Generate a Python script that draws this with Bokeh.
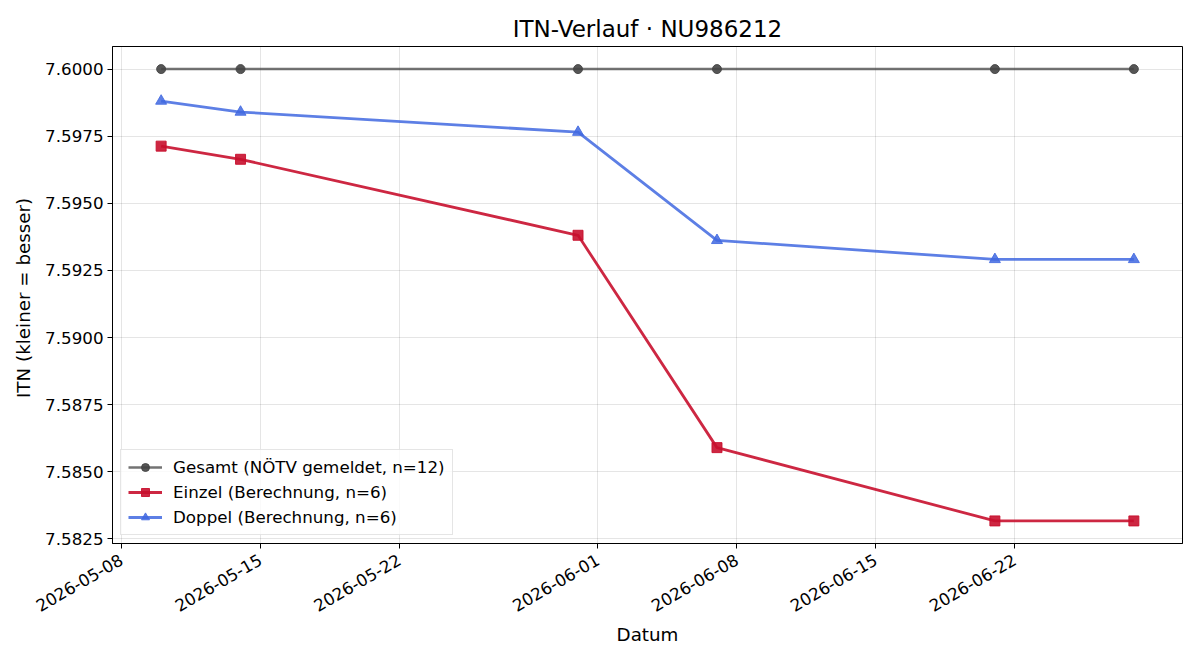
import math
from datetime import datetime
from bokeh.plotting import figure
from bokeh.models import (ColumnDataSource, Range1d, FixedTicker, DatetimeTickFormatter,
                          NumeralTickFormatter, Legend, LegendItem)
from bokeh.embed import file_html
from bokeh.resources import INLINE

# ---- data ----
dates = ["2026-05-10", "2026-05-14", "2026-05-31", "2026-06-07", "2026-06-21", "2026-06-28"]
gesamt = [7.6000, 7.6000, 7.6000, 7.6000, 7.6000, 7.6000]
einzel = [7.59713, 7.59664, 7.59381, 7.58590, 7.58317, 7.58317]
doppel = [7.59881, 7.59840, 7.59765, 7.59362, 7.59291, 7.59291]
x_tick_labels = ["2026-05-08", "2026-05-15", "2026-05-22", "2026-06-01",
                 "2026-06-08", "2026-06-15", "2026-06-22"]
y_ticks = [7.5825, 7.5850, 7.5875, 7.5900, 7.5925, 7.5950, 7.5975, 7.6000]
labels = ["Gesamt (NÖTV gemeldet, n=12)", "Einzel (Berechnung, n=6)", "Doppel (Berechnung, n=6)"]

FONT = "DejaVu Sans"

def to_ms(s):
    return (datetime.strptime(s, "%Y-%m-%d") - datetime(1970, 1, 1)).total_seconds() * 1000.0

xs = [to_ms(d) for d in dates]
src = ColumnDataSource(dict(x=xs, g=gesamt, e=einzel, d=doppel))

xmin, xmax = min(xs), max(xs)
xpad = (xmax - xmin) * 0.05
allv = gesamt + einzel + doppel
ymin, ymax = min(allv), max(allv)
ypad = (ymax - ymin) * 0.05

p = figure(frame_width=1070, frame_height=497, x_axis_type="datetime",
           output_backend="svg", toolbar_location=None,
           x_range=Range1d(xmin - xpad, xmax + xpad),
           y_range=Range1d(ymin - ypad, ymax + ypad),
           min_border_left=112, min_border_right=18, min_border_top=46, min_border_bottom=117)
p.background_fill_color = "white"
p.border_fill_color = "white"
p.outline_line_color = "black"
p.outline_line_width = 1

p.title.text = "ITN-Verlauf · NU986212"
p.title.text_font = FONT
p.title.text_font_size = "23px"
p.title.text_font_style = "normal"
p.title.align = "center"
p.title.text_color = "black"

# grid
for g in (p.xgrid, p.ygrid):
    g.grid_line_color = "black"
    g.grid_line_alpha = 0.1
    g.grid_line_width = 1
p.xgrid.ticker = FixedTicker(ticks=[to_ms(t) for t in x_tick_labels])
p.ygrid.ticker = FixedTicker(ticks=y_ticks)

# axes
xa = p.xaxis[0]
xa.ticker = FixedTicker(ticks=[to_ms(t) for t in x_tick_labels])
xa.formatter = DatetimeTickFormatter(days="%Y-%m-%d", months="%Y-%m-%d", years="%Y-%m-%d",
                                     hours="%Y-%m-%d", context=None)
xa.major_label_orientation = math.pi / 6
xa.axis_label = "Datum"
ya = p.yaxis[0]
ya.ticker = FixedTicker(ticks=y_ticks)
ya.formatter = NumeralTickFormatter(format="0.0000")
ya.axis_label = "ITN  (kleiner = besser)"
for ax in (xa, ya):
    ax.axis_line_color = "black"
    ax.major_tick_line_color = "black"
    ax.major_tick_out = 5
    ax.major_tick_in = 0
    ax.minor_tick_line_color = None
    ax.major_label_text_font = FONT
    ax.major_label_text_font_size = "16.7px"
    ax.major_label_text_color = "black"
    ax.axis_label_text_font = FONT
    ax.axis_label_text_font_size = "18.3px"
    ax.axis_label_text_font_style = "normal"
    ax.axis_label_text_color = "black"
    ax.major_label_standoff = 4
    ax.axis_label_standoff = 8
xa.major_label_standoff = 10
xa.axis_label_standoff = 4

# series
lg = p.line("x", "g", source=src, line_color="#444444", line_alpha=0.75, line_width=2.5)
sg = p.scatter("x", "g", source=src, marker="circle", size=9, fill_color="#444444",
               line_color="#444444", fill_alpha=0.9, line_alpha=0.9)
le = p.line("x", "e", source=src, line_color="#C8102E", line_alpha=0.9, line_width=2.8)
se = p.scatter("x", "e", source=src, marker="square", size=10, fill_color="#C8102E",
               line_color="#C8102E", fill_alpha=0.9, line_alpha=0.9)
ld = p.line("x", "d", source=src, line_color="#4169E1", line_alpha=0.85, line_width=2.8)
sd = p.scatter("x", "d", source=src, marker="triangle", size=11, fill_color="#4169E1",
               line_color="#4169E1", fill_alpha=0.85, line_alpha=0.85)

legend = Legend(items=[LegendItem(label=labels[0], renderers=[lg, sg]),
                       LegendItem(label=labels[1], renderers=[le, se]),
                       LegendItem(label=labels[2], renderers=[ld, sd])],
                location="bottom_left")
legend.margin = 8
legend.padding = 7
legend.spacing = 5
legend.label_text_font = FONT
legend.label_text_font_size = "16.7px"
legend.label_text_color = "black"
legend.glyph_width = 34
legend.glyph_height = 20
legend.label_height = 20
legend.label_standoff = 11
legend.border_line_color = "#cccccc"
legend.border_line_width = 1
legend.background_fill_color = "white"
legend.background_fill_alpha = 0.8
p.add_layout(legend, "center")

open("out.html", "w").write(file_html(p, INLINE))
